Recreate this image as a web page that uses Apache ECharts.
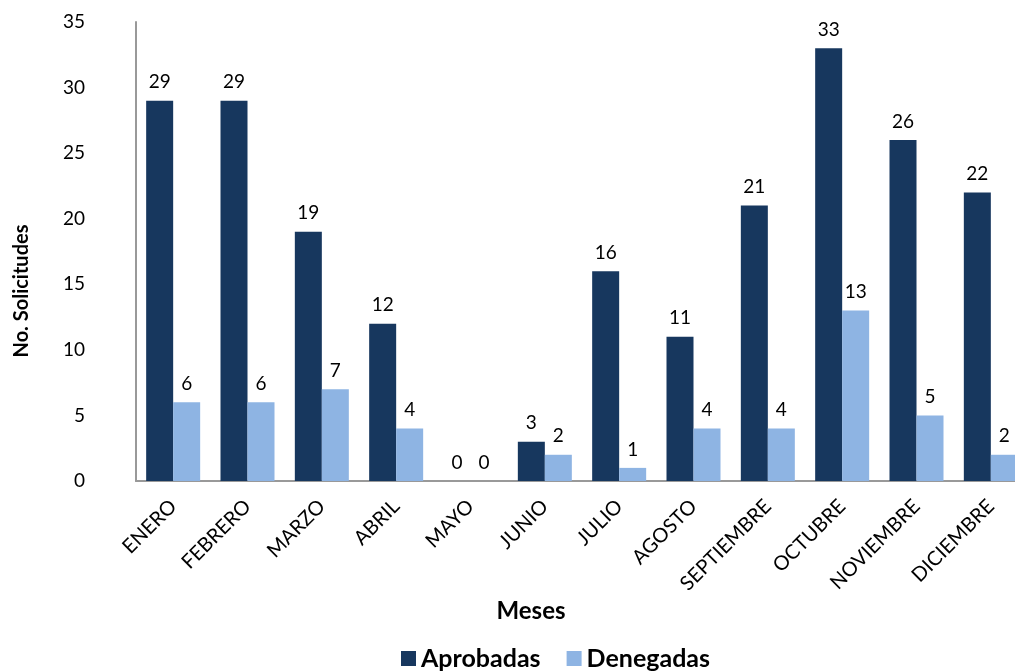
<!DOCTYPE html>
<html><head><meta charset="utf-8">
<script src="https://cdn.jsdelivr.net/npm/echarts@6/dist/echarts.min.js"></script>
<style>html,body{margin:0;padding:0;background:#fff;overflow:hidden;width:1015px;height:671px}#c{width:1030px;height:671px}</style>
</head><body><div id="c"></div>
<script>
const months = ['ENERO','FEBRERO','MARZO','ABRIL','MAYO','JUNIO','JULIO','AGOSTO','SEPTIEMBRE','OCTUBRE','NOVIEMBRE','DICIEMBRE'];
const aprobadas = [29,29,19,12,0,3,16,11,21,33,26,22];
const denegadas = [6,6,7,4,0,2,1,4,4,13,5,2];
const font = "Lato, 'Open Sans', sans-serif";
const chart = echarts.init(document.getElementById('c'));
chart.setOption({
  animation:false,
  textStyle:{fontFamily:font},
  grid:{left:136,top:22,bottom:190,right:2,containLabel:false},
  legend:{bottom:-5,left:396,itemWidth:15,itemHeight:15,itemGap:26,icon:'rect',
    textStyle:{fontFamily:font,fontWeight:'bold',fontSize:25,color:'#000'},
    data:['Aprobadas','Denegadas']},
  graphic:[
    {type:'text',x:531,y:611,style:{text:'Meses',fill:'#000',font:"bold 24px Lato, 'Open Sans', sans-serif",align:'center',verticalAlign:'middle'}},
    {type:'text',x:22,y:291,rotation:Math.PI/2,style:{text:'No. Solicitudes',fill:'#000',font:"bold 20px Lato, 'Open Sans', sans-serif",align:'center',verticalAlign:'middle'}}
  ],
  xAxis:{type:'category',data:months,
    axisLine:{lineStyle:{color:'#999',width:2}},axisTick:{show:false},
    axisLabel:{rotate:45,fontSize:20,color:'#000',margin:22,interval:0,fontFamily:font}},
  yAxis:{type:'value',min:0,max:35,interval:5,
    axisLine:{show:true,lineStyle:{color:'#999',width:2}},axisTick:{show:false},splitLine:{show:false},
    axisLabel:{fontSize:19,color:'#000',margin:51,fontFamily:font}},
  series:[
    {name:'Aprobadas',type:'bar',data:aprobadas,barWidth:27,barGap:'0%',
     itemStyle:{color:'#17375E'},
     label:{show:true,position:'top',distance:9,fontSize:19,color:'#000',fontFamily:font}},
    {name:'Denegadas',type:'bar',data:denegadas,barWidth:27,
     itemStyle:{color:'#8EB4E3'},
     label:{show:true,position:'top',distance:9,fontSize:19,color:'#000',fontFamily:font}}
  ]
});
</script></body></html>
